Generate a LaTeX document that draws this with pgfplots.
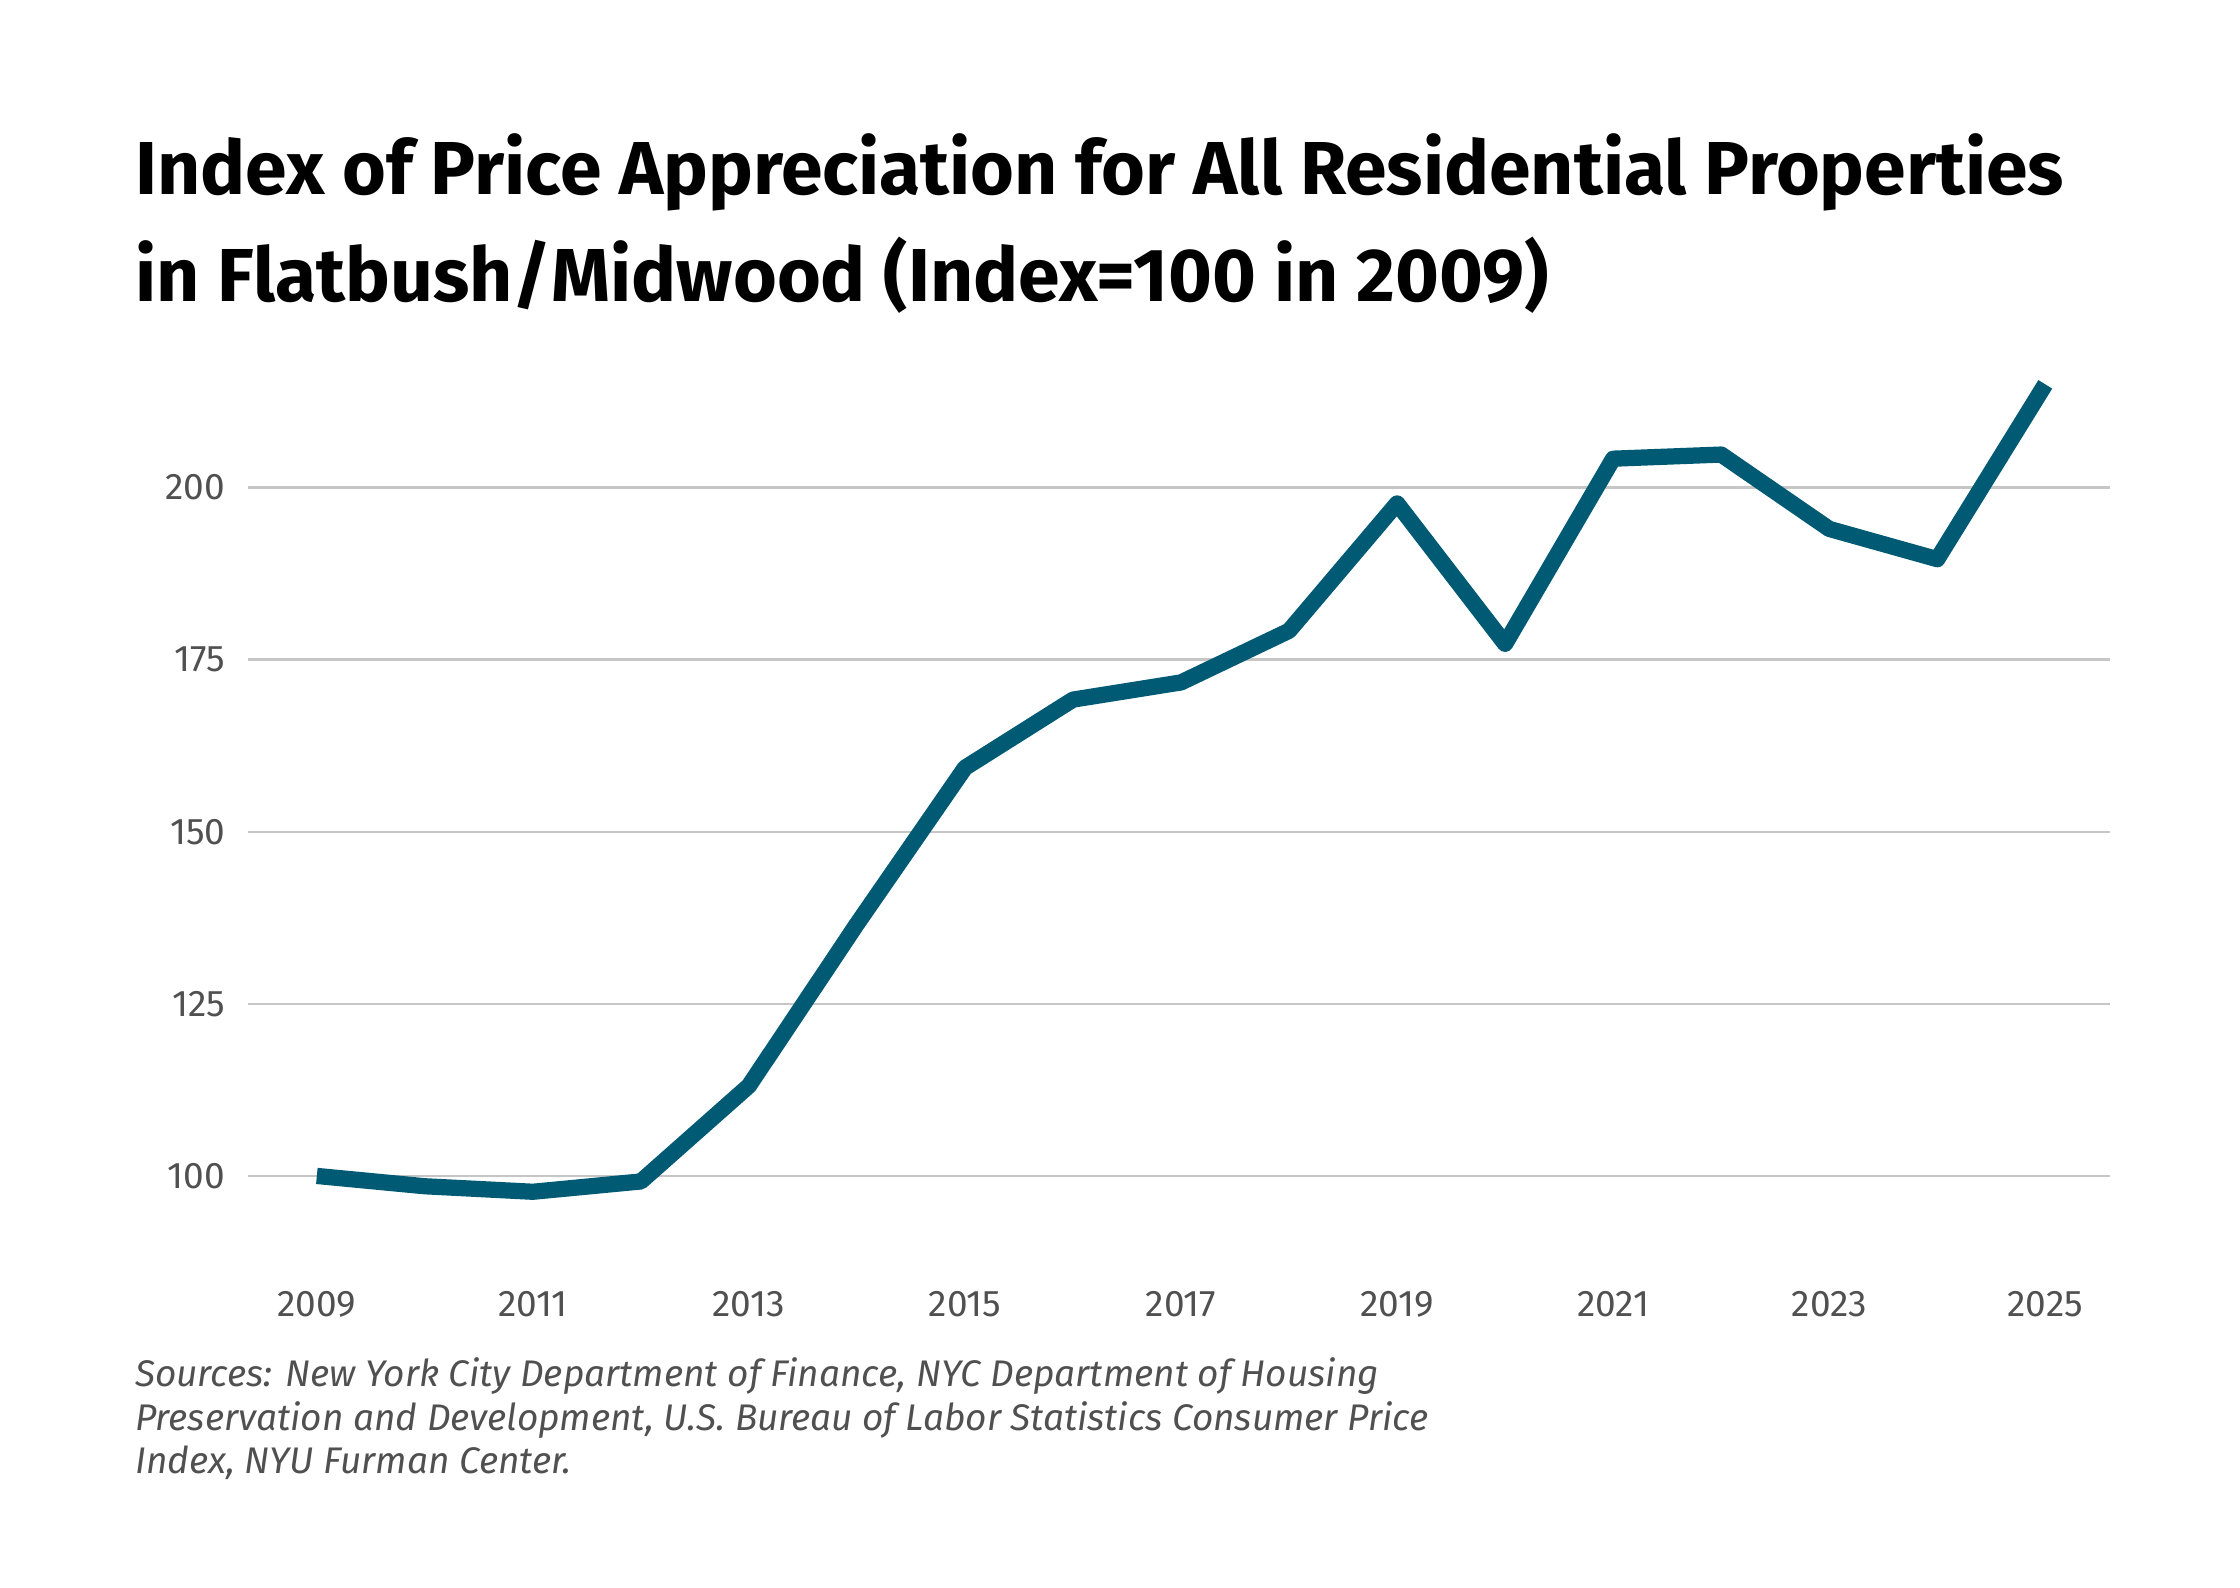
\documentclass[border=0pt]{standalone}
\usepackage{pgfplots}
\pgfplotsset{compat=1.18}
\usepackage{fontspec}
\setmainfont{Fira Sans}
\definecolor{ln}{HTML}{005A74}
\definecolor{tk}{HTML}{505050}
\begin{document}
\begin{tikzpicture}[x=1cm,y=1cm]
\path[use as bounding box] (0,0) rectangle (15.52,11);
\node[anchor=north west,align=left,font=\fontsize{14.8pt}{21pt}\selectfont\bfseries,inner sep=0] at (0.93,10.08) {Index of Price Appreciation for All Residential Properties\\in Flatbush/Midwood (Index=100 in 2009)};
\node[anchor=north west,align=left,font=\fontsize{7.3pt}{8.6pt}\selectfont\itshape\color{tk},inner sep=0] at (0.93,1.6) {Sources: New York City Department of Finance, NYC Department of Housing\\Preservation and Development, U.S. Bureau of Labor Statistics Consumer Price\\Index, NYU Furman Center.};
\begin{axis}[at={(1.72cm,2.28cm)},anchor=south west,scale only axis,
 width=12.9cm,height=6.2cm,
 xmin=2008.365,xmax=2025.6,ymin=88,ymax=218,
 axis line style={draw=none},
 xtick={2009,2011,...,2025},ytick={100,125,...,200},
 xticklabel style={/pgf/number format/1000 sep=},
 /pgf/number format/assume math mode=true,
 tick style={draw=none},
 ymajorgrids, grid style={gray!45,line width=0.5pt},
 ticklabel style={font=\fontsize{7.3pt}{8pt}\selectfont,text=tk},
 yticklabel style={xshift=-1pt},
 xticklabel style={yshift=-3pt},
 clip=false]
\addplot[ln,line width=3.2pt,line join=round] coordinates {
(2009,100)(2010,98.5)(2011,97.7)(2012,99.2)(2013,113.1)(2014,136.6)(2015,159.3)
(2016,169.2)(2017,171.7)(2018,179.2)(2019,197.7)(2020,177.3)(2021,204.2)
(2022,204.8)(2023,194.0)(2024,189.6)(2025,215.0)};
\end{axis}
\end{tikzpicture}
\end{document}
